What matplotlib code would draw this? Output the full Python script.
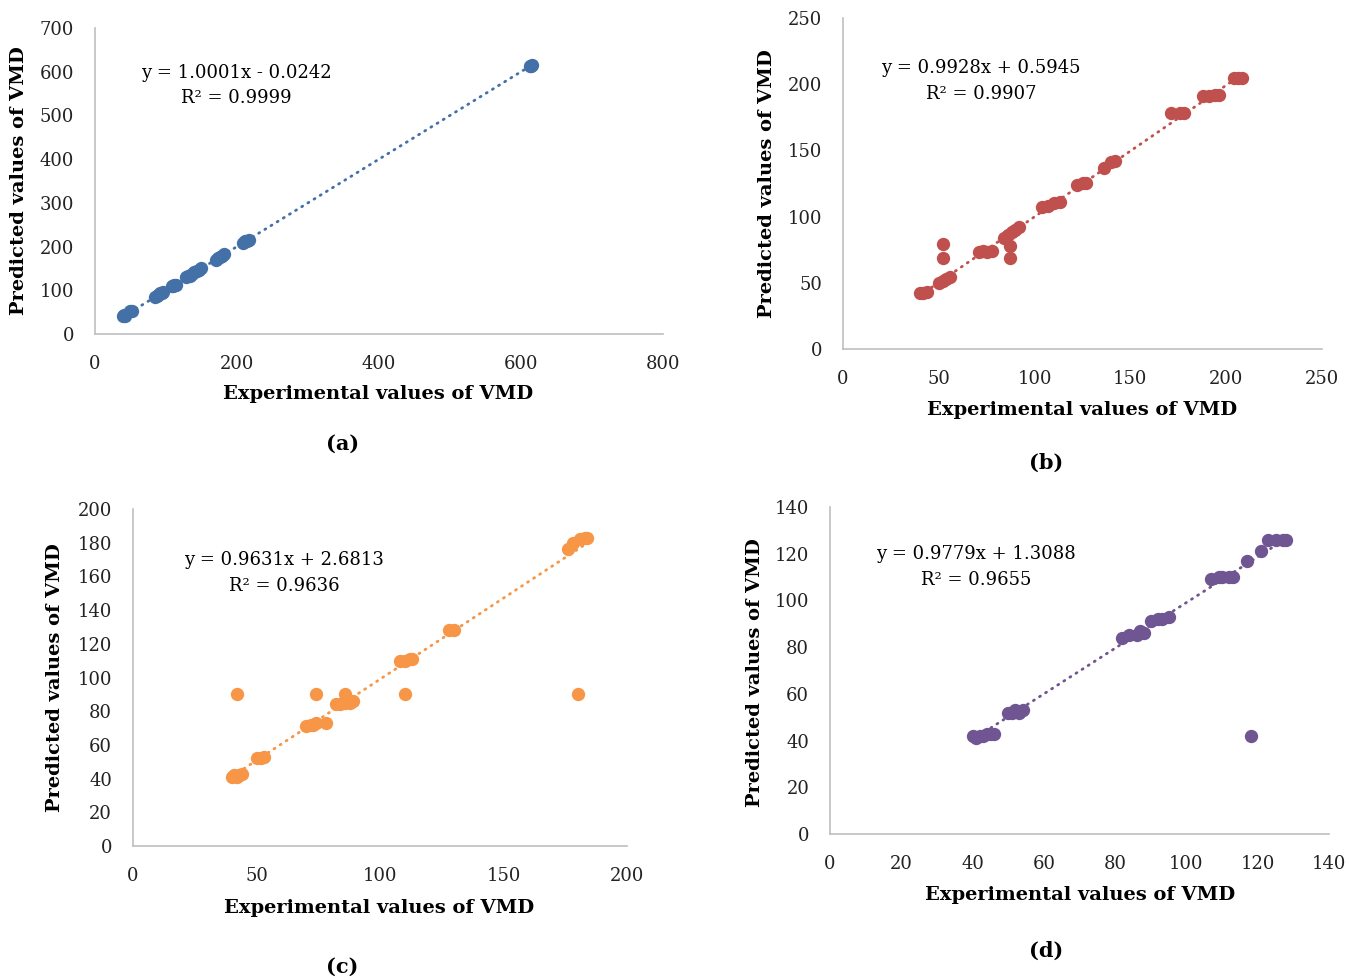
import numpy as np
import matplotlib
matplotlib.use("Agg")
import matplotlib.pyplot as plt

plt.rcParams['font.family'] = ['DejaVu Serif']

# (a) experimental vs predicted VMD
xa = [40, 41, 42, 50, 52, 85, 87, 89, 92, 94, 96, 108, 110, 112, 114,
      128, 131, 134, 137, 140, 143, 146, 149, 170, 173, 176, 179, 182,
      208, 211, 214, 217, 612, 614, 616]
ya = [42, 43, 42, 53, 53, 85, 86, 90, 93, 94, 95, 109, 110, 112, 113,
      130, 132, 133, 137, 141, 143, 147, 150, 170, 174, 177, 179, 182,
      209, 212, 213, 216, 613, 614, 615]

# (b)
xb = [40, 42, 44, 50, 52, 54, 56, 52, 52, 71, 73, 75, 78, 84, 86, 88, 90, 92,
      87, 87, 104, 107, 110, 113, 122, 125, 127, 136, 140, 142,
      171, 176, 178, 188, 191, 194, 196, 204, 206, 208]
yb = [42, 42, 43, 50, 51, 53, 54, 69, 79, 73, 74, 73, 74, 84, 86, 88, 90, 92,
      69, 78, 107, 108, 110, 111, 124, 125, 125, 137, 141, 142,
      178, 178, 178, 191, 191, 192, 192, 205, 205, 205]

# (c)
xc = [40, 41, 42, 43, 44, 42, 50, 52, 53, 70, 72, 73, 74, 74, 78,
      82, 84, 86, 88, 89, 86, 108, 110, 112, 113, 110, 128, 130,
      176, 178, 181, 183, 184, 180]
yc = [41, 42, 41, 42, 43, 90, 52, 52, 53, 71, 72, 72, 73, 90, 73,
      84, 84, 85, 85, 86, 90, 110, 110, 111, 111, 90, 128, 128,
      176, 180, 182, 183, 183, 90]

# (d)
xd = [40, 41, 42, 43, 44, 45, 46, 50, 51, 52, 53, 54, 82, 84, 86, 87, 88,
      90, 92, 93, 95, 107, 109, 110, 112, 113, 117, 121, 123, 125, 127, 128, 118]
yd = [42, 41, 42, 42, 43, 43, 43, 52, 52, 53, 52, 53, 84, 85, 85, 87, 86,
      91, 92, 92, 93, 109, 110, 110, 110, 110, 117, 121, 126, 126, 126, 126, 42]

slopes = [1.0001, 0.9928, 0.9631, 0.9779]
intercepts = [-0.0242, 0.5945, 2.6813, 1.3088]
eq_texts = ["y = 1.0001x - 0.0242", "y = 0.9928x + 0.5945",
            "y = 0.9631x + 2.6813", "y = 0.9779x + 1.3088"]
r2_texts = ["R\u00b2 = 0.9999", "R\u00b2 = 0.9907", "R\u00b2 = 0.9636", "R\u00b2 = 0.9655"]
captions = ["(a)", "(b)", "(c)", "(d)"]
colors = ["#4470A8", "#C0504D", "#F79646", "#6F5591"]

xlims = [(0, 800), (0, 250), (0, 200), (0, 140)]
ylims = [(0, 700), (0, 250), (0, 200), (0, 140)]
xsteps = [200, 50, 50, 20]
ysteps = [100, 50, 20, 20]

positions = [[0.0704, 0.6592, 0.4211, 0.3122],
             [0.6249, 0.6439, 0.3551, 0.3378],
             [0.0986, 0.1367, 0.3662, 0.3439],
             [0.6153, 0.1490, 0.3699, 0.3337]]
xlab_pos = [(0.498, -0.196), (0.499, -0.184), (0.498, -0.184), (0.501, -0.1865)]
ylab_pos = [(-0.134, 0.5), (-0.159, 0.5), (-0.158, 0.4985), (-0.150, 0.495)]
cap_pos = [(0.2543, 0.547), (0.7754, 0.5276), (0.2535, 0.0133), (0.7754, 0.0296)]
eq_pos = [(0.1749, 0.9255, 0.900), (0.7272, 0.9306, 0.9041),
          (0.2105, 0.4286, 0.402), (0.7235, 0.4347, 0.4082)]

data = [(xa, ya), (xb, yb), (xc, yc), (xd, yd)]

fig = plt.figure(figsize=(13.49, 9.8), dpi=100)
for i in range(4):
    ax = fig.add_axes(positions[i])
    x = np.array(data[i][0])
    y = np.array(data[i][1])
    ax.scatter(x, y, s=92, color=colors[i], linewidths=0, zorder=3)
    # linear trendline over the data range
    xt = np.array([x.min(), x.max()])
    ax.plot(xt, slopes[i] * xt + intercepts[i], color=colors[i], lw=2,
            linestyle=(0, (0.4, 2.2)), dash_capstyle='round', zorder=2)
    ax.set_xlim(*xlims[i])
    ax.set_ylim(*ylims[i])
    ax.set_xticks(np.arange(xlims[i][0], xlims[i][1] + 1, xsteps[i]))
    ax.set_yticks(np.arange(ylims[i][0], ylims[i][1] + 1, ysteps[i]))
    ax.tick_params(length=0, labelsize=13, pad=15, colors='#222222')
    for s in ['top', 'right']:
        ax.spines[s].set_visible(False)
    for s in ['left', 'bottom']:
        ax.spines[s].set_color('#BFBFBF')
        ax.spines[s].set_linewidth(1.2)
    ax.set_xlabel("Experimental values of VMD", fontsize=14, fontweight='bold', va='center')
    ax.set_ylabel("Predicted values of VMD", fontsize=14, fontweight='bold', va='center')
    ax.xaxis.set_label_coords(*xlab_pos[i])
    ax.yaxis.set_label_coords(*ylab_pos[i])
    fig.text(eq_pos[i][0], eq_pos[i][1], eq_texts[i], fontsize=13, ha='center', va='center')
    fig.text(eq_pos[i][0], eq_pos[i][2], r2_texts[i], fontsize=13, ha='center', va='center')
    fig.text(cap_pos[i][0], cap_pos[i][1], captions[i], fontsize=15, fontweight='bold',
             ha='center', va='center')

fig.savefig("out.png", dpi=100)
